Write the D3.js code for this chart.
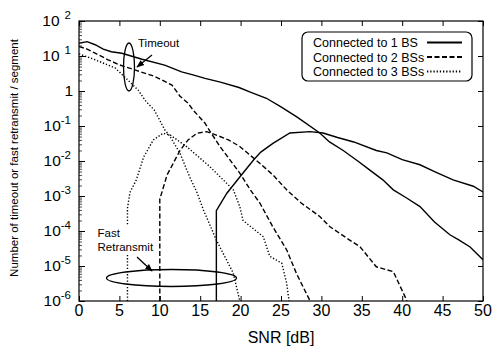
<!DOCTYPE html>
<html>
<head>
<meta charset="utf-8">
<script src="https://cdn.jsdelivr.net/npm/d3@7"></script>
<style>
  body { margin: 0; background: #fff; }
  svg { font-family: "Liberation Sans", Arial, Helvetica, sans-serif; }
</style>
</head>
<body>
<svg id="chart" width="492" height="349"></svg>
<script>
// tick values
const snrTicks = [0, 5, 10, 15, 20, 25, 30, 35, 40, 45, 50];
const decadeExp = [2, 1, 0, -1, -2, -3, -4, -5, -6];

// series: [SNR dB, count per segment]
const timeout1BS = [[0,23],[1,25.7],[2,21],[3,15.8],[4,13.2],[5.3,12],[7.8,8.1],[10.6,5.5],[12.7,3.5],
  [14.1,2.9],[15.6,2.3],[17.5,1.8],[19.8,1.26],[21.2,0.93],[23.2,0.62],[25,0.35],[27,0.18],[29.8,0.063],
  [31,0.035],[32.7,0.02],[34.5,0.01],[36,0.0055],[37.6,0.0029],[38.9,0.0015],[40.5,8.9e-4],[42.2,5e-4],
  [44,1.8e-4],[45.9,7.8e-5],[47,5.6e-5],[48.4,3.5e-5],[50,1.5e-5]];
const fastRetx1BS = [[17,1e-6],[17,3.8e-4],[18.3,1.2e-3],[19.9,3.5e-3],[21.6,0.0107],[22.5,0.018],[24,0.032],
  [26.1,0.063],[28.6,0.069],[30.2,0.063],[32,0.047],[34,0.035],[36.8,0.02],[38.1,0.017],[40,0.011],
  [42.2,0.0078],[44,0.005],[46.3,0.0029],[48.8,0.0019],[50,0.0013]];
const timeout2BS = [[0,18.6],[1,15.8],[2,12],[3.6,7.8],[5,5.6],[6.9,4.0],[9.4,2.6],[11.5,1.48],[12.5,0.71],
  [13.5,0.45],[14.1,0.29],[15.6,0.12],[16.2,0.071],[17.5,0.025],[19.9,0.0045],[21.2,0.0015],[22.4,6.2e-4],
  [24,1.3e-4],[25.7,2.9e-5],[26.9,6.2e-6],[28.6,1e-6]];
const fastRetx2BS = [[10,1e-6],[10,8.1e-4],[10.9,0.004],[12.5,0.02],[13.5,0.04],[14.6,0.062],[15.8,0.069],
  [17,0.055],[18.5,0.04],[19.9,0.026],[22.4,0.0085],[24,0.004],[25.7,0.0015],[27.5,6.3e-4],[29.8,2.6e-4],
  [31.1,1.3e-4],[33.5,5.5e-5],[34.8,3.5e-5],[36.8,9.5e-6],[38.9,6.9e-6],[40.6,1e-6]];
const timeout3BS = [[0,11.5],[2,7.8],[4.5,4.5],[6.1,2.0],[7.3,1.07],[8.3,0.5],[9.3,0.29],[10.6,0.079],
  [11.3,0.049],[12.5,0.0166],[13.7,0.0035],[14.6,0.00126],[15.4,4e-4],[17,5.5e-5],[19.1,6.2e-6],[19.9,1e-6]];
const fastRetx3BS = [[6,1e-6],[6,4.5e-4],[6.3,1.26e-3],[7.1,2.9e-3],[8,0.013],[9.2,0.04],[10.4,0.062],
  [11.3,0.055],[13.3,0.026],[16.2,0.0069],[19.1,0.0015],[19.9,5e-4],[20.3,2e-4],[22.8,6.9e-5],[23.6,1.9e-5],
  [25.1,1.2e-5],[25.7,3.2e-6],[26,1e-6]];

const legendNames = ['Connected to 1 BS', 'Connected to 2 BSs', 'Connected to 3 BSs'];
const dashes = ['none', '5,2.5', '1.3,1.9'];

const svg = d3.select('#chart');
const margin = { top: 21, left: 79, right: 9, bottom: 48 };
const W = 492, H = 349;

const x = d3.scaleLinear().domain([0, 50]).range([margin.left, W - margin.right]);
const y = d3.scaleLog().domain([1e-6, 100]).range([H - margin.bottom, margin.top]);

// clip
svg.append('defs').append('clipPath').attr('id', 'plotclip')
  .append('rect')
  .attr('x', x(0)).attr('y', y(100))
  .attr('width', x(50) - x(0)).attr('height', y(1e-6) - y(100));

// minor ticks on log axis
const minorVals = [];
for (let e = -6; e < 2; e++) for (let m = 2; m <= 9; m++) minorVals.push(m * Math.pow(10, e));

svg.append('g')
  .attr('transform', `translate(${x(0)},0)`)
  .call(d3.axisRight(y).tickValues(minorVals).tickSize(3).tickFormat(''))
  .call(g => g.select('.domain').remove())
  .selectAll('line').attr('stroke-width', 0.7);

// major ticks, left and right (inward)
svg.append('g')
  .attr('transform', `translate(${x(0)},0)`)
  .call(d3.axisRight(y).tickValues(decadeExp.map(e => Math.pow(10, e))).tickSize(6).tickFormat(''))
  .call(g => g.select('.domain').remove());
svg.append('g')
  .attr('transform', `translate(${x(50)},0)`)
  .call(d3.axisLeft(y).tickValues(decadeExp.map(e => Math.pow(10, e))).tickSize(5).tickFormat(''))
  .call(g => g.select('.domain').remove());

// x ticks, bottom and top (inward)
svg.append('g')
  .attr('transform', `translate(0,${y(1e-6)})`)
  .call(d3.axisTop(x).tickValues(snrTicks).tickSize(5).tickFormat(''))
  .call(g => g.select('.domain').remove());
svg.append('g')
  .attr('transform', `translate(0,${y(100)})`)
  .call(d3.axisBottom(x).tickValues(snrTicks).tickSize(5).tickFormat(''))
  .call(g => g.select('.domain').remove());

svg.selectAll('.tick line').attr('stroke', '#000');

// frame
svg.append('rect')
  .attr('x', x(0)).attr('y', y(100))
  .attr('width', x(50) - x(0)).attr('height', y(1e-6) - y(100))
  .attr('fill', 'none').attr('stroke', '#000').attr('stroke-width', 1.2);

// x tick labels
svg.append('g').selectAll('text')
  .data(snrTicks).join('text')
  .attr('x', d => x(d)).attr('y', 316)
  .attr('text-anchor', 'middle')
  .attr('font-size', 16)
  .text(d => d);

// y tick labels
const ylab = svg.append('g').selectAll('text')
  .data(decadeExp).join('text')
  .attr('x', 71).attr('y', d => y(Math.pow(10, d)) + 5)
  .attr('text-anchor', 'end')
  .attr('font-size', 15.5);
ylab.each(function (d) {
  const t = d3.select(this);
  if (d === 0) { t.attr('x', 73).text('1'); return; }
  t.append('tspan').text('10');
  t.append('tspan').attr('dy', -7).attr('dx', d > 0 ? 5 : 0).attr('font-size', 11.5).text(d);
});

// axis titles
svg.append('text')
  .attr('x', x(25)).attr('y', 343)
  .attr('text-anchor', 'middle').attr('font-size', 16)
  .text('SNR [dB]');
svg.append('text')
  .attr('transform', `translate(18,${(y(100) + y(1e-6)) / 2 - 3}) rotate(-90)`)
  .attr('text-anchor', 'middle').attr('font-size', 11.5)
  .text('Number of timeout or fast retransmit / segment');

// curves
const line = d3.line().x(d => x(d[0])).y(d => y(d[1]));
const curves = [
  [timeout1BS, 0], [fastRetx1BS, 0],
  [timeout2BS, 1], [fastRetx2BS, 1],
  [timeout3BS, 2], [fastRetx3BS, 2]
];
svg.append('g').attr('clip-path', 'url(#plotclip)')
  .selectAll('path').data(curves).join('path')
  .attr('d', d => line(d[0]))
  .attr('fill', 'none').attr('stroke', '#000')
  .attr('stroke-width', d => d[1] === 2 ? 1.4 : 1.4)
  .attr('stroke-dasharray', d => dashes[d[1]]);

// legend
const leg = svg.append('g');
leg.append('rect')
  .attr('x', 302).attr('y', 32).attr('width', 170).attr('height', 49)
  .attr('rx', 6).attr('fill', '#fff').attr('stroke', '#000').attr('stroke-width', 1.2);
legendNames.forEach((name, i) => {
  const yy = 42.5 + i * 14.5;
  leg.append('text').attr('x', 313).attr('y', yy + 4.5).attr('font-size', 12.5).text(name);
  leg.append('line').attr('x1', 427).attr('x2', 462).attr('y1', yy).attr('y2', yy)
    .attr('stroke', '#000').attr('stroke-width', 2).attr('stroke-dasharray', dashes[i]);
});

// annotations
svg.append('defs').append('marker')
  .attr('id', 'arrow').attr('viewBox', '0 0 10 10')
  .attr('refX', 9).attr('refY', 5)
  .attr('markerWidth', 6).attr('markerHeight', 6).attr('orient', 'auto')
  .append('path').attr('d', 'M0,1 L10,5 L0,9 Z').attr('fill', '#000');

svg.append('ellipse')
  .attr('cx', 129).attr('cy', 67).attr('rx', 5.5).attr('ry', 24)
  .attr('fill', 'none').attr('stroke', '#000').attr('stroke-width', 1.3);
svg.append('text').attr('x', 138).attr('y', 47).attr('font-size', 11.5).text('Timeout');
svg.append('line').attr('x1', 152).attr('y1', 55).attr('x2', 137).attr('y2', 67)
  .attr('stroke', '#000').attr('stroke-width', 1.3).attr('marker-end', 'url(#arrow)');

svg.append('ellipse')
  .attr('cx', 171.5).attr('cy', 278).attr('rx', 65).attr('ry', 8.5)
  .attr('fill', 'none').attr('stroke', '#000').attr('stroke-width', 1.3);
svg.append('rect').attr('x', 96).attr('y', 226).attr('width', 58).attr('height', 28).attr('fill', '#fff');
svg.append('text').attr('x', 97.5).attr('y', 236.5).attr('font-size', 11.5).text('Fast');
svg.append('text').attr('x', 97.5).attr('y', 251).attr('font-size', 11.5).text('Retransmit');
svg.append('line').attr('x1', 137).attr('y1', 257).attr('x2', 152).attr('y2', 271)
  .attr('stroke', '#000').attr('stroke-width', 1.3).attr('marker-end', 'url(#arrow)');
</script>
</body>
</html>
